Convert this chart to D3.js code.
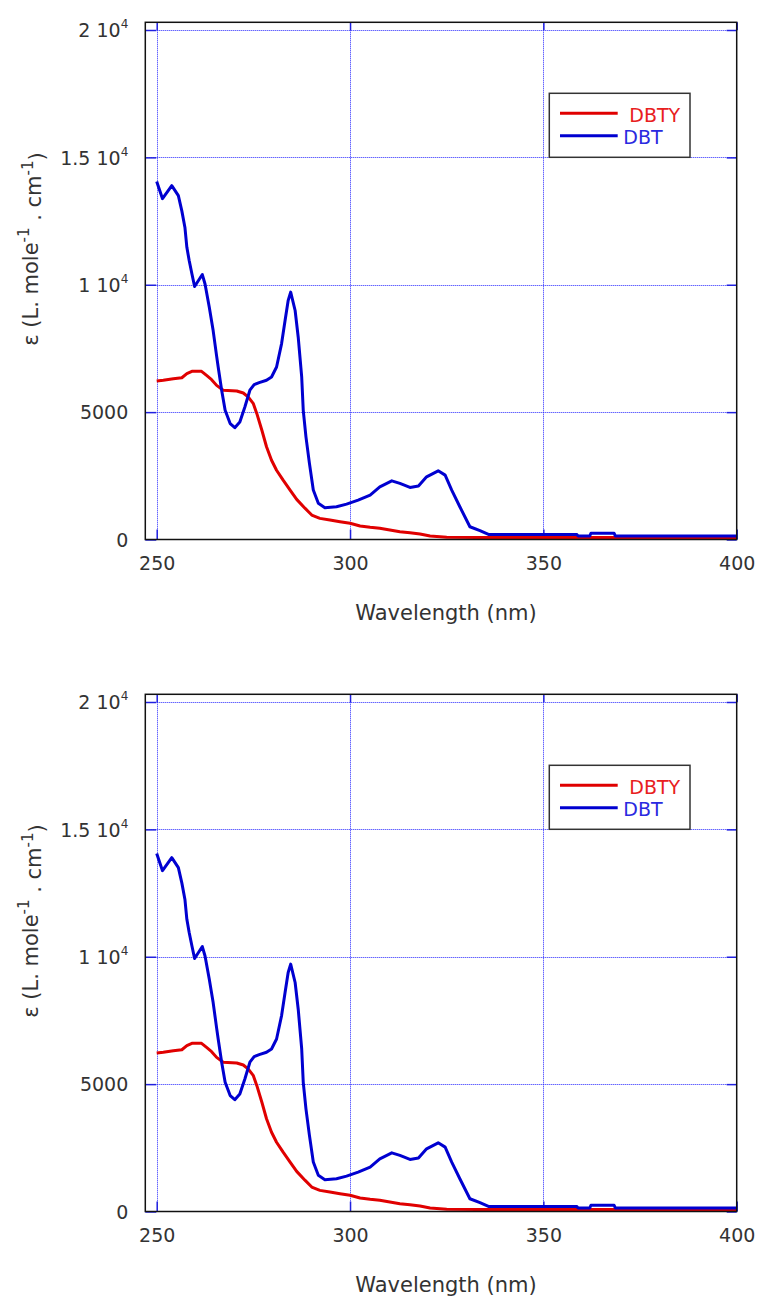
<!DOCTYPE html>
<html>
<head>
<meta charset="utf-8">
<script src="https://cdn.jsdelivr.net/npm/d3@7"></script>
<style>
  body { margin: 0; background: #fff; }
  svg { display: block; font-family: "DejaVu Sans", sans-serif; }
</style>
</head>
<body>
<div class="container"></div>
<script>
//=================================================
// Data (wavelength in nm, epsilon)
//=================================================
var dbtWave = [250, 251.5, 253.9, 255.6, 256.5, 257.3, 257.8, 258.4, 259.1, 259.8,
  261.8, 262.5, 263.6, 264.6, 265.5, 265.9, 266.8, 267.7, 269, 270.2,
  271.5, 272.8, 274.1, 275.2, 276.5, 278.4, 279.7, 281, 282.3, 283.2,
  284, 284.65, 285.8, 286.6, 287.5, 287.9, 288.6, 289.5, 290.5, 291.8,
  293.5, 296.5, 299.1, 302.1, 305.2, 307.7, 310.8, 312.9, 315.5, 317.7,
  319.8, 322.8, 324.6, 326.3, 328.4, 331, 333.6, 335.8, 358.6, 359,
  362, 362.3, 368.3, 368.6, 400];
var dbtEps = [14050, 13380, 13890, 13500, 12900, 12250, 11470, 10950, 10430, 9930,
  10400, 10030, 9120, 8200, 7200, 6770, 5860, 5070, 4550, 4390,
  4610, 5200, 5860, 6080, 6160, 6250, 6380, 6770, 7690, 8600,
  9380, 9710, 8990, 7940, 6380, 5070, 4030, 2990, 1940, 1420,
  1250, 1285, 1390, 1547, 1743, 2068, 2303, 2201, 2045, 2096,
  2460, 2695, 2526, 1939, 1285, 501, 345, 200, 200, 137,
  137, 245, 245, 140, 140];

var dbtyWave = [250, 251.7, 254.3, 256.5, 257.8, 259.1, 261.6, 262.9, 264.2, 265.5,
  267.2, 270.7, 272.4, 273.7, 275, 275.9, 277.2, 278.4, 279.7, 281,
  282.7, 284.5, 286.2, 288.4, 290.1, 292.2, 294.8, 297.4, 300, 302.6,
  305.2, 307.7, 310.3, 312.9, 315.5, 318.1, 320.7, 325, 333, 400];
var dbtyEps = [6220, 6250, 6310, 6350, 6510, 6600, 6600, 6440, 6275, 6050,
  5860, 5830, 5750, 5590, 5330, 4940, 4290, 3640, 3110, 2720,
  2330, 1940, 1575, 1220, 960, 830, 764, 697, 635, 529,
  478, 439, 372, 306, 266, 215, 137, 86, 75, 75];

var seriesNames = ["DBTY", "DBT"];
var xTicks = [250, 300, 350, 400];
var yTicks = [0, 5000, 10000, 15000, 20000];
var yTickMantissa = ["0", "5000", "1", "1.5", "2"];
var yTickExponent = [null, null, "4", "4", "4"];

//=================================================
// Dimensions
//=================================================
var width = 757,
  height = 1301,
  panelOffset = 672;

var xScale = d3.scaleLinear().domain([250, 400]).range([156.7, 736.7]);
var yScale = d3.scaleLinear().domain([0, 20000]).range([539.5, 30]);

var frameLeft = 145.3,
  frameRight = 736.7,
  frameTop = 22.3,
  frameBottom = 539.5;

var gridColor = "#2424ff",
  tickColor = "#2020e0",
  textColor = "#333",
  redLine = "#e00000",
  blueLine = "#0000d0";

// put 1px lines on the pixel grid so the dots stay sharp
var crisp = v => Math.round(v) + 0.5;

const svg = d3.select(".container").
append("svg").
attr("width", width).
attr("height", height);

svg.append("rect").attr("width", width).attr("height", height).attr("fill", "#fff");

var line = d3.line().
x(d => xScale(d[0])).
y(d => yScale(d[1]));

var dbty = dbtyWave.map((w, i) => [w, dbtyEps[i]]);
var dbt = dbtWave.map((w, i) => [w, dbtEps[i]]);

//=================================================
// One panel (the figure shows the same plot twice)
//=================================================
function drawPanel(offset) {
  const g = svg.append("g").attr("transform", "translate(0," + offset + ")");

  // dotted grid
  g.selectAll(".vgrid").
  data(xTicks.slice(0, 3)).
  enter().
  append("line").
  attr("x1", d => crisp(xScale(d))).
  attr("x2", d => crisp(xScale(d))).
  attr("y1", frameTop).
  attr("y2", frameBottom).
  attr("stroke", gridColor).
  attr("stroke-width", 1).
  attr("stroke-dasharray", "1,1");

  g.selectAll(".hgrid").
  data(yTicks.slice(1)).
  enter().
  append("line").
  attr("x1", frameLeft).
  attr("x2", frameRight).
  attr("y1", d => crisp(yScale(d))).
  attr("y2", d => crisp(yScale(d))).
  attr("stroke", gridColor).
  attr("stroke-width", 1).
  attr("stroke-dasharray", "1,1");

  // inward ticks on all four sides
  const bottomAxis = g.append("g").
  attr("transform", "translate(0," + frameBottom + ")").
  call(d3.axisBottom(xScale).tickValues(xTicks).tickSizeInner(-10).tickSizeOuter(0).tickPadding(17).tickFormat(d3.format("d")));

  const topAxis = g.append("g").
  attr("transform", "translate(0," + frameTop + ")").
  call(d3.axisTop(xScale).tickValues(xTicks).tickSizeInner(-8).tickSizeOuter(0).tickFormat(""));

  const leftAxis = g.append("g").
  attr("transform", "translate(" + frameLeft + ",0)").
  call(d3.axisLeft(yScale).tickValues(yTicks).tickSizeInner(-11).tickSizeOuter(0).tickPadding(17).tickFormat(""));

  const rightAxis = g.append("g").
  attr("transform", "translate(" + frameRight + ",0)").
  call(d3.axisRight(yScale).tickValues(yTicks).tickSizeInner(-10).tickSizeOuter(0).tickFormat(""));

  [bottomAxis, topAxis, leftAxis, rightAxis].forEach(a => {
    a.select(".domain").remove();
    a.selectAll(".tick line").attr("stroke", tickColor).attr("stroke-width", 1.5);
  });

  bottomAxis.selectAll("text").
  attr("fill", textColor).
  attr("font-size", 19).
  attr("font-family", "DejaVu Sans, sans-serif");

  // y labels like "1.5 10^4"
  leftAxis.selectAll(".tick text").each(function (d, i) {
    const t = d3.select(this).
    attr("fill", textColor).
    attr("font-size", 19).
    attr("font-family", "DejaVu Sans, sans-serif").
    attr("dy", "0.35em");
    if (yTickExponent[i]) {
      t.append("tspan").text(yTickMantissa[i] + " 10");
      t.append("tspan").attr("font-size", 12).attr("dy", "-0.75em").text(yTickExponent[i]);
    } else {
      t.text(yTickMantissa[i]);
    }
  });

  // curves
  g.append("path").
  datum(dbty).
  attr("d", line).
  attr("fill", "none").
  attr("stroke", redLine).
  attr("stroke-width", 3).
  attr("stroke-linejoin", "round");

  g.append("path").
  datum(dbt).
  attr("d", line).
  attr("fill", "none").
  attr("stroke", blueLine).
  attr("stroke-width", 3).
  attr("stroke-linejoin", "round");

  // frame
  g.append("rect").
  attr("x", frameLeft).
  attr("y", frameTop).
  attr("width", frameRight - frameLeft).
  attr("height", frameBottom - frameTop).
  attr("fill", "none").
  attr("stroke", "#111").
  attr("stroke-width", 1.5);

  // axis titles
  g.append("text").
  attr("x", 446).
  attr("y", 620).
  attr("text-anchor", "middle").
  attr("font-size", 21).
  attr("fill", textColor).
  text("Wavelength (nm)");

  const yt = g.append("text").
  attr("transform", "translate(37.5,249) rotate(-90)").
  attr("text-anchor", "middle").
  attr("font-size", 21).
  attr("fill", textColor);
  yt.append("tspan").text("\u03b5 (L. mole");
  yt.append("tspan").attr("font-size", 15).attr("dy", "-0.55em").text("-1");
  yt.append("tspan").attr("dy", "0.55em").text(" . cm");
  yt.append("tspan").attr("font-size", 15).attr("dy", "-0.55em").text("-1");
  yt.append("tspan").attr("dy", "0.55em").text(")");

  // legend
  const lg = g.append("g");
  lg.append("rect").
  attr("x", 549.3).
  attr("y", 93.3).
  attr("width", 140.7).
  attr("height", 64).
  attr("fill", "#fff").
  attr("stroke", "#333").
  attr("stroke-width", 1.5);

  lg.selectAll(".key").
  data(seriesNames).
  enter().
  append("line").
  attr("x1", 560).
  attr("x2", 617.7).
  attr("y1", (d, i) => 113.3 + i * 22.4).
  attr("y2", (d, i) => 113.3 + i * 22.4).
  attr("stroke", (d, i) => i === 0 ? redLine : blueLine).
  attr("stroke-width", 3);

  lg.selectAll(".label").
  data(seriesNames).
  enter().
  append("text").
  attr("x", (d, i) => i === 0 ? 629.3 : 623.3).
  attr("y", (d, i) => 121.5 + i * 22.4).
  attr("font-size", 19).
  attr("fill", (d, i) => i === 0 ? "#e82020" : "#2a2ae0").
  text(d => d);
}

drawPanel(0);
drawPanel(panelOffset);
</script>
</body>
</html>
